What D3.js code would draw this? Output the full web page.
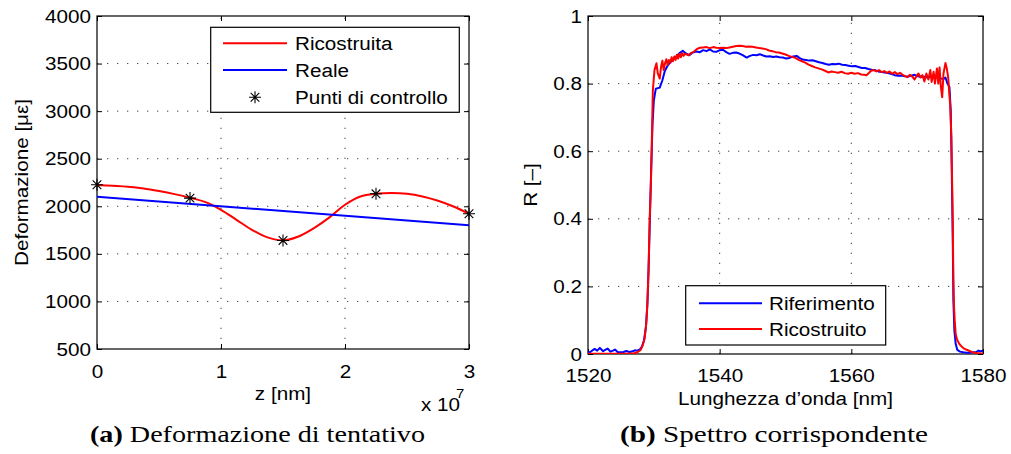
<!DOCTYPE html>
<html><head><meta charset="utf-8">
<script src="https://cdn.jsdelivr.net/npm/d3@7"></script>
<style>
body{margin:0;background:#fff}
svg text{font-family:"Liberation Sans",Arial,Helvetica,sans-serif;fill:#000}
</style>
</head><body>
<svg id="c" width="1011" height="454"></svg>
<script>
// ---------- DATA (left chart) ----------
const zCtrl   = [0, 7.5e6, 1.5e7, 2.25e7, 3e7];
const epsCtrl = [2226, 2086, 1641, 2131, 1921];
const zRic    = [0,1.25e6,2.5e6,3.75e6,5e6,6.25e6,7.5e6,8.75e6,1e7,1.125e7,1.25e7,1.375e7,1.5e7,1.625e7,1.75e7,1.875e7,2e7,2.125e7,2.25e7,2.375e7,2.5e7,2.625e7,2.75e7,2.875e7,3e7];
const epsRic  = [2224,2215,2205,2187,2160,2128,2090,2044,1963,1858,1753,1673,1642,1683,1771,1883,2016,2103,2131,2139,2131,2103,2058,1998,1921];
const zReal   = [0, 3e7];
const epsReal = [2100, 1800];
const leftXTicks = [0, 1e7, 2e7, 3e7];
const leftXTickLabels = ["0","1","2","3"];
const leftYTicks = [500,1000,1500,2000,2500,3000,3500,4000];
const leftLegend = ["Ricostruita","Reale","Punti di controllo"];

// ---------- DATA (right chart) ----------
const lamRif = [1520.0,1520.5,1521.0,1521.4,1521.8,1522.3,1522.6,1523.0,1523.4,1523.8,1524.1,1524.5,1525.0,1525.4,1525.8,1526.3,1526.8,1527.1,1527.5,1527.9,1528.2,1528.5,1528.8,1529.0,1529.2,1529.4,1529.6,1529.8,1530.0,1530.3,1530.9,1531.3,1531.65,1532.0,1532.4,1532.9,1533.4,1533.9,1534.4,1534.8,1535.4,1535.9,1536.5,1537.0,1537.5,1538.0,1538.5,1539.0,1539.5,1540.0,1540.5,1541.0,1541.5,1542.0,1542.5,1543.0,1543.5,1544.1,1544.6,1545.1,1545.6,1546.1,1546.6,1547.1,1547.6,1548.1,1548.6,1549.1,1549.6,1550.1,1550.6,1551.1,1551.7,1552.1,1552.6,1553.1,1553.6,1554.1,1554.6,1555.1,1555.6,1556.1,1556.6,1557.1,1557.6,1558.1,1558.6,1559.1,1559.6,1560.1,1560.6,1561.1,1561.6,1562.1,1562.6,1563.1,1563.6,1564.1,1564.6,1565.1,1565.6,1566.1,1566.6,1567.1,1567.6,1568.1,1568.6,1569.1,1569.6,1570.1,1570.6,1571.1,1571.6,1572.1,1572.6,1573.1,1573.6,1574.0,1574.3,1574.6,1574.9,1575.1,1575.25,1575.4,1575.5,1575.65,1575.85,1576.1,1576.5,1577.0,1577.5,1578.0,1578.5,1579.0,1579.3,1579.6,1580.0];
const rRif   = [0.003,0.008,0.015,0.010,0.018,0.008,0.012,0.016,0.007,0.010,0.013,0.006,0.005,0.006,0.009,0.006,0.008,0.011,0.010,0.014,0.022,0.04,0.08,0.14,0.25,0.40,0.55,0.68,0.75,0.785,0.788,0.81,0.836,0.85,0.861,0.872,0.880,0.89,0.897,0.89,0.884,0.892,0.895,0.893,0.899,0.896,0.901,0.895,0.894,0.899,0.900,0.893,0.888,0.891,0.892,0.889,0.884,0.877,0.882,0.885,0.884,0.887,0.883,0.880,0.881,0.879,0.880,0.878,0.877,0.874,0.876,0.880,0.882,0.876,0.871,0.870,0.868,0.869,0.866,0.863,0.861,0.858,0.856,0.858,0.857,0.859,0.856,0.855,0.853,0.851,0.852,0.849,0.846,0.846,0.843,0.841,0.840,0.836,0.834,0.833,0.831,0.828,0.825,0.823,0.824,0.822,0.821,0.823,0.826,0.822,0.820,0.820,0.818,0.820,0.817,0.819,0.815,0.814,0.818,0.80,0.79,0.72,0.55,0.35,0.16,0.07,0.03,0.012,0.007,0.005,0.004,0.004,0.005,0.006,0.010,0.008,0.010];
const lamRic = [1520.0,1521.0,1522.0,1523.0,1524.0,1525.0,1526.0,1527.0,1527.5,1528.0,1528.3,1528.6,1528.85,1529.05,1529.2,1529.37,1529.55,1529.67,1529.85,1530.1,1530.4,1530.6,1530.9,1531.1,1531.3,1531.5,1531.7,1531.9,1532.1,1532.3,1532.5,1532.7,1532.9,1533.1,1533.3,1533.5,1533.7,1533.9,1534.1,1534.3,1534.5,1534.7,1535.0,1535.3,1535.6,1536.0,1536.5,1537.0,1537.5,1538.0,1538.5,1539.0,1539.5,1540.0,1540.5,1541.0,1541.5,1542.0,1542.5,1543.0,1543.5,1544.0,1544.5,1545.0,1545.5,1546.0,1546.5,1547.0,1547.5,1548.0,1548.5,1549.0,1549.5,1550.0,1550.5,1551.0,1551.5,1552.0,1552.5,1553.0,1553.5,1554.0,1554.5,1555.0,1555.5,1556.0,1556.5,1557.0,1557.5,1558.0,1558.5,1559.0,1559.5,1560.0,1560.5,1561.0,1561.5,1562.0,1562.3,1562.7,1563.0,1563.4,1563.8,1564.2,1564.6,1565.0,1565.4,1565.8,1566.2,1566.6,1567.0,1567.4,1567.8,1568.1,1568.5,1568.9,1569.3,1569.6,1569.9,1570.2,1570.5,1570.8,1571.1,1571.4,1571.7,1572.0,1572.2,1572.5,1572.7,1573.0,1573.2,1573.4,1573.6,1573.8,1574.0,1574.3,1574.5,1574.7,1575.0,1575.2,1575.3,1575.4,1575.5,1575.6,1575.7,1575.85,1576.05,1576.4,1576.7,1577.2,1577.7,1578.3,1578.9,1579.5,1580.0];
const rRic   = [0.001,0.001,0.001,0.001,0.001,0.001,0.001,0.002,0.005,0.012,0.025,0.045,0.09,0.16,0.25,0.40,0.50,0.60,0.78,0.84,0.86,0.83,0.815,0.85,0.868,0.84,0.86,0.872,0.855,0.87,0.862,0.878,0.866,0.88,0.87,0.885,0.874,0.888,0.878,0.89,0.882,0.888,0.886,0.884,0.89,0.893,0.902,0.906,0.907,0.908,0.905,0.908,0.906,0.905,0.906,0.905,0.907,0.909,0.911,0.912,0.911,0.909,0.910,0.909,0.907,0.905,0.904,0.902,0.898,0.896,0.893,0.892,0.889,0.886,0.882,0.879,0.876,0.870,0.866,0.862,0.856,0.852,0.848,0.845,0.842,0.838,0.833,0.836,0.834,0.832,0.835,0.831,0.829,0.832,0.829,0.831,0.827,0.826,0.825,0.832,0.838,0.840,0.836,0.84,0.834,0.837,0.832,0.836,0.829,0.834,0.828,0.832,0.826,0.823,0.819,0.826,0.82,0.812,0.822,0.83,0.818,0.825,0.806,0.83,0.812,0.84,0.805,0.835,0.80,0.845,0.80,0.848,0.79,0.76,0.83,0.861,0.845,0.82,0.74,0.64,0.52,0.40,0.22,0.14,0.10,0.06,0.043,0.03,0.023,0.015,0.011,0.006,0.003,0.002,0.001];
const rightXTicks = [1520,1540,1560,1580];
const rightYTicks = [0,0.2,0.4,0.6,0.8,1];
const rightYTickLabels = ["0","0.2","0.4","0.6","0.8","1"];
const rightLegend = ["Riferimento","Ricostruito"];

// ---------- DRAWING ----------
const svg = d3.select("#c");
const FS = 18.8, STRETCH = 1.1;
const RED = "#ff0000", BLUE = "#0000ff";

function stretch(sel, k) {
  sel.each(function(){
    const w = this.getComputedTextLength();
    this.setAttribute("textLength", w * k);
    this.setAttribute("lengthAdjust", "spacingAndGlyphs");
  });
}

function frame(g, x, y, xt, yt, xfmt, yfmt, xLabBase) {
  const [x0, x1] = x.range(), [y1, y0] = y.range();
  const grid = g.append("g").attr("stroke", "#444").attr("stroke-width", 1).attr("stroke-dasharray", "1.3,8.7");
  xt.filter(v => x(v) > x0 + 1 && x(v) < x1 - 1).forEach(v =>
    grid.append("line").attr("x1", x(v)).attr("x2", x(v)).attr("y1", y1).attr("y2", y0));
  yt.filter(v => y(v) < y1 - 1 && y(v) > y0 + 1).forEach(v =>
    grid.append("line").attr("y1", y(v)).attr("y2", y(v)).attr("x1", x0).attr("x2", x1));
  const ax = g.append("g").attr("transform", `translate(0,${y1})`)
    .call(d3.axisBottom(x).tickValues(xt).tickSize(-5).tickFormat(xfmt));
  ax.selectAll("text").attr("y", xLabBase).attr("dy", 0).attr("font-size", FS).attr("font-family", null);
  const ay = g.append("g").attr("transform", `translate(${x0},0)`)
    .call(d3.axisLeft(y).tickValues(yt).tickSize(-5).tickPadding(6).tickFormat(yfmt));
  ay.selectAll("text").attr("font-size", FS).attr("font-family", null);
  g.append("g").attr("transform", `translate(0,${y0})`)
    .call(d3.axisTop(x).tickValues(xt).tickSize(-5).tickFormat(""));
  g.append("g").attr("transform", `translate(${x1},0)`)
    .call(d3.axisRight(y).tickValues(yt).tickSize(-5).tickFormat(""));
  g.selectAll(".domain").remove();
  g.selectAll(".tick line").attr("stroke", "#000");
  g.append("rect").attr("x", x0).attr("y", y0).attr("width", x1 - x0).attr("height", y1 - y0)
    .attr("fill", "none").attr("stroke", "#000").attr("stroke-width", 1.2);
  stretch(ax.selectAll("text"), STRETCH);
  stretch(ay.selectAll("text"), STRETCH);
}

function star(g, cx, cy, r) {
  const d = r * 0.72;
  g.append("path")
    .attr("d", `M${cx - r},${cy}L${cx + r},${cy}M${cx},${cy - r}L${cx},${cy + r}M${cx - d},${cy - d}L${cx + d},${cy + d}M${cx - d},${cy + d}L${cx + d},${cy - d}`)
    .attr("stroke", "#000").attr("stroke-width", 1.1).attr("fill", "none");
}

// ===== Left chart =====
const xL = d3.scaleLinear().domain([0, 3e7]).range([97, 469]);
const yL = d3.scaleLinear().domain([500, 4000]).range([349, 16]);
const gL = svg.append("g");
gL.append("rect").attr("x", 97).attr("y", 16).attr("width", 372).attr("height", 333).attr("fill", "#fff");
frame(gL, xL, yL, leftXTicks, leftYTicks, (d, i) => leftXTickLabels[i], d3.format("d"), 29);

svg.append("defs").html('<clipPath id="clipL"><rect x="97" y="16" width="372" height="333"/></clipPath><clipPath id="clipR"><rect x="588" y="16" width="395" height="338"/></clipPath>');

const dataRic = zRic.map((z, i) => [z, epsRic[i]]);
const dataReal = zReal.map((z, i) => [z, epsReal[i]]);
const plotL = gL.append("g").attr("clip-path", "url(#clipL)");
plotL.append("path").datum(dataRic)
  .attr("d", d3.line().x(d => xL(d[0])).y(d => yL(d[1])).curve(d3.curveCatmullRom.alpha(0.5)))
  .attr("fill", "none").attr("stroke", RED).attr("stroke-width", 2);
plotL.append("path").datum(dataReal).attr("d", d3.line().x(d => xL(d[0])).y(d => yL(d[1])))
  .attr("fill", "none").attr("stroke", BLUE).attr("stroke-width", 2);
zCtrl.forEach((z, i) => star(gL, xL(z), yL(epsCtrl[i]), 6));

const tzl = gL.append("text").attr("x", 283).attr("y", 400).attr("text-anchor", "middle").attr("font-size", FS).text("z [nm]");
const tyl = gL.append("text").attr("transform", "translate(28,182.5) rotate(-90)").attr("text-anchor", "middle").attr("font-size", FS).text("Deformazione [με]");
const tx10 = gL.append("text").attr("x", 421).attr("y", 410.5).attr("font-size", FS).text("x 10");
const tsup = gL.append("text").attr("x", 456).attr("y", 397.5).attr("font-size", 13.5).text("7");
stretch(tzl, STRETCH); stretch(tyl, STRETCH); stretch(tx10, STRETCH); stretch(tsup, STRETCH);

const lgL = gL.append("g");
lgL.append("rect").attr("x", 210.7).attr("y", 27.3).attr("width", 248.6).attr("height", 85)
  .attr("fill", "#fff").attr("stroke", "#000").attr("stroke-width", 1.2);
const legYL = [43.3, 70, 97.3];
lgL.append("line").attr("x1", 223).attr("x2", 287).attr("y1", legYL[0]).attr("y2", legYL[0]).attr("stroke", RED).attr("stroke-width", 2);
lgL.append("line").attr("x1", 223).attr("x2", 287).attr("y1", legYL[1]).attr("y2", legYL[1]).attr("stroke", BLUE).attr("stroke-width", 2);
star(lgL, 255, legYL[2], 6);
const legTL = lgL.selectAll("text.lg").data(leftLegend).join("text").attr("class", "lg")
  .attr("x", 295).attr("y", (d, i) => legYL[i]).attr("dy", "0.36em").attr("font-size", FS).text(d => d);
stretch(legTL, STRETCH);

// ===== Right chart =====
const xR = d3.scaleLinear().domain([1520, 1580]).range([588, 983]);
const yR = d3.scaleLinear().domain([0, 1]).range([354, 16]);
const gR = svg.append("g");
gR.append("rect").attr("x", 588).attr("y", 16).attr("width", 395).attr("height", 338).attr("fill", "#fff");
frame(gR, xR, yR, rightXTicks, rightYTicks, d3.format("d"), (d, i) => rightYTickLabels[i], 28);
const lineR = d3.line().x(d => xR(d[0])).y(d => yR(d[1]));
const plotR = gR.append("g").attr("clip-path", "url(#clipR)");
plotR.append("path").datum(lamRif.map((l, i) => [l, rRif[i]])).attr("d", lineR)
  .attr("fill", "none").attr("stroke", BLUE).attr("stroke-width", 2).attr("stroke-linejoin", "round");
plotR.append("path").datum(lamRic.map((l, i) => [l, rRic[i]])).attr("d", lineR)
  .attr("fill", "none").attr("stroke", RED).attr("stroke-width", 2).attr("stroke-linejoin", "round");

const txr = gR.append("text").attr("x", 785.5).attr("y", 405).attr("text-anchor", "middle").attr("font-size", FS).text("Lunghezza d’onda [nm]");
const tyr = gR.append("text").attr("transform", "translate(537,185) rotate(-90)").attr("text-anchor", "middle").attr("font-size", FS).text("R [–]");
stretch(txr, STRETCH); stretch(tyr, STRETCH);

const lgR = gR.append("g");
lgR.append("rect").attr("x", 685.7).attr("y", 285.7).attr("width", 200).attr("height", 59.3)
  .attr("fill", "#fff").attr("stroke", "#000").attr("stroke-width", 1.2);
const legYR = [303.3, 329];
[BLUE, RED].forEach((c, i) => lgR.append("line").attr("x1", 699).attr("x2", 762)
  .attr("y1", legYR[i]).attr("y2", legYR[i]).attr("stroke", c).attr("stroke-width", 2));
const legTR = lgR.selectAll("text.lg").data(rightLegend).join("text").attr("class", "lg")
  .attr("x", 769).attr("y", (d, i) => legYR[i]).attr("dy", "0.36em").attr("font-size", FS).text(d => d);
stretch(legTR, STRETCH);

// ===== Captions =====
function caption(cx, w, tag, txt) {
  const t = svg.append("text").attr("x", cx).attr("y", 442).attr("text-anchor", "middle")
    .style("font-family", '"Palatino Linotype","Book Antiqua",Palatino,"Liberation Serif",serif')
    .attr("font-size", 22.5);
  t.append("tspan").attr("font-weight", "bold").text(tag);
  t.append("tspan").text(" " + txt);
  t.attr("textLength", w).attr("lengthAdjust", "spacingAndGlyphs");
}
caption(257.5, 335, "(a)", "Deformazione di tentativo");
caption(774, 308, "(b)", "Spettro corrispondente");
</script>
</body></html>
